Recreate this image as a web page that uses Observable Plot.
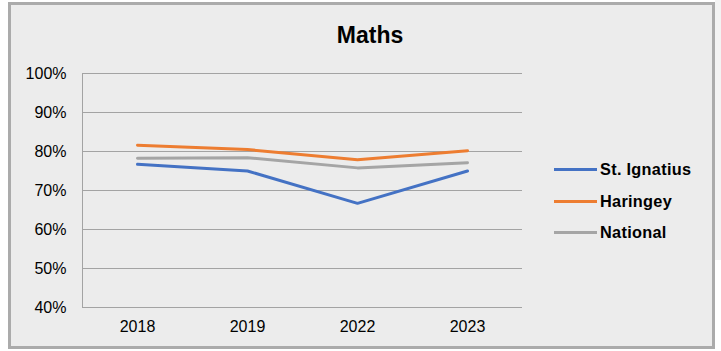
<!DOCTYPE html>
<html>
<head>
<meta charset="utf-8">
<script src="https://cdn.jsdelivr.net/npm/d3@7"></script>
<script src="https://cdn.jsdelivr.net/npm/@observablehq/plot@0.6"></script>
<style>
  html, body { margin: 0; padding: 0; background: #ffffff; }
  #wrap { position: relative; width: 721px; height: 351px; overflow: hidden; font-family: "Liberation Sans", Arial, sans-serif; }
  #strip { position: absolute; left: 715px; top: 0; width: 6px; height: 260px; background: #f3f3f3; }
  #box { position: absolute; left: 8px; top: 2px; width: 701px; height: 341px; border: 3px solid #ababab; background: #ececec; }
  #title { position: absolute; left: 0; width: 740px; top: 22px; text-align: center; font-weight: bold; font-size: 23px; color: #000; }
  #chart { position: absolute; left: 0; top: 0; }
  #legend { position: absolute; left: 554px; top: 154px; }
  .item { display: flex; align-items: center; height: 31.6px; font-weight: bold; font-size: 16.3px; color: #000; letter-spacing: 0.3px; }
  .sw { width: 43px; height: 3px; margin-right: 3px; }
</style>
</head>
<body>
<div id="wrap">
  <div id="strip"></div>
  <div id="box"></div>
  <div id="title">Maths</div>
  <div id="chart"></div>
  <div id="legend"></div>
</div>
<script>
const years = ["2018", "2019", "2022", "2023"];
const seriesNames = ["St. Ignatius", "Haringey", "National"];
const stIgnatius = [0.767, 0.750, 0.667, 0.750];
const haringey = [0.816, 0.805, 0.779, 0.802];
const national = [0.783, 0.784, 0.758, 0.771];
const colors = ["#4472C4", "#ED7D31", "#A5A5A5"];
const yTicks = [0.4, 0.5, 0.6, 0.7, 0.8, 0.9, 1.0];

const seriesValues = [stIgnatius, haringey, national];
const rows = [];
seriesNames.forEach((s, i) => years.forEach((y, j) => rows.push({series: s, year: y, value: seriesValues[i][j]})));

const chart = Plot.plot({
  width: 721,
  height: 351,
  marginLeft: 82,
  marginRight: 199,
  marginTop: 73,
  marginBottom: 44,
  style: { background: "transparent", fontFamily: "'Liberation Sans', Arial, sans-serif", fontSize: "16px", color: "#000", overflow: "visible" },
  x: { type: "point", domain: years, padding: 0.5, label: null },
  y: { domain: [0.4, 1.0], label: null },
  color: { domain: seriesNames, range: colors },
  marks: [
    Plot.gridY(yTicks, { stroke: "#a3a3a3", strokeOpacity: 1, strokeWidth: 1 }),
    Plot.frame({ anchor: "left", stroke: "#a3a3a3", strokeWidth: 1 }),
    Plot.axisY(yTicks, { tickSize: 0, tickPadding: 16, tickFormat: d3.format(".0%"), fontSize: 16, fill: "#000", label: null }),
    Plot.axisX({ tickSize: 0, tickPadding: 13, fontSize: 16, fill: "#000", label: null }),
    Plot.line(rows, { x: "year", y: "value", z: "series", stroke: "series", strokeWidth: 3, curve: "linear" })
  ]
});
document.getElementById("chart").appendChild(chart);

const legend = document.getElementById("legend");
seriesNames.forEach((s, i) => {
  const it = document.createElement("div");
  it.className = "item";
  const sw = document.createElement("div");
  sw.className = "sw";
  sw.style.background = colors[i];
  const tx = document.createElement("span");
  tx.textContent = s;
  it.appendChild(sw);
  it.appendChild(tx);
  legend.appendChild(it);
});
</script>
</body>
</html>
